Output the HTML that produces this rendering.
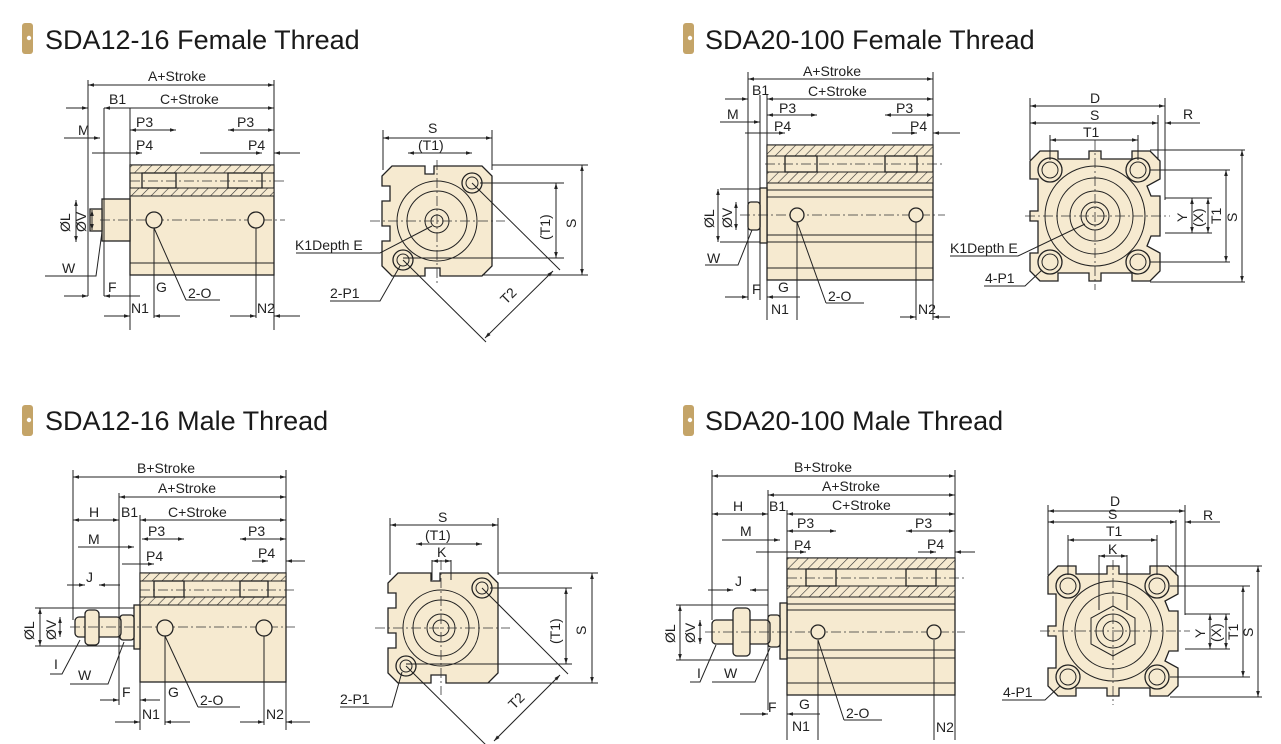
<!DOCTYPE html>
<html><head><meta charset="utf-8"><style>
html,body{margin:0;padding:0;background:#fff;width:1281px;height:744px;overflow:hidden}
svg{display:block}
text{font-family:"Liberation Sans",sans-serif;fill:#222}
.t{font-size:27px;fill:#1a1a1a}
.d{font-size:14px}
.b{fill:#f6ead0;stroke:#222;stroke-width:1.3}
.l{stroke:#222;stroke-width:1;fill:none}
.c{stroke:#333;stroke-width:.8;fill:none;stroke-dasharray:10 3 2 3}
.h{fill:url(#hat);stroke:#222;stroke-width:1}
</style></head><body>
<svg width="1281" height="744" viewBox="0 0 1281 744">
<defs>
<pattern id="hat" width="7" height="7" patternUnits="userSpaceOnUse" patternTransform="rotate(45)"><rect width="7" height="7" fill="#f6ead0"/><line x1="0" y1="0" x2="0" y2="7" stroke="#333" stroke-width="1.2"/></pattern>
<marker id="a" viewBox="0 0 10 10" refX="10" refY="5" markerWidth="8" markerHeight="6" orient="auto-start-reverse"><path d="M0,2 L10,5 L0,8z" fill="#222"/></marker>
<path id="ev" d="M-55,-65 L-37,-65 L-37,-57 L-6,-57 L-6,-65 L6,-65 L6,-57 L37,-57 L37,-65 L55,-65 L65,-55 L65,-37 L52,-30 L56,-20 L65,-20 L65,20 L56,20 L52,30 L65,37 L65,55 L55,65 L37,65 L37,57 L6,57 L6,65 L-6,65 L-6,57 L-37,57 L-37,65 L-55,65 L-65,55 L-65,37 L-57,37 L-57,5 L-65,5 L-65,-5 L-57,-5 L-57,-37 L-65,-37 L-65,-55Z"/>
<path id="ev2" d="M-45,-55 L-12,-55 L-12,-47 L-3,-47 L-3,-55 L45,-55 L55,-45 L55,45 L45,55 L3,55 L3,47 L-12,47 L-12,55 L-45,55 L-55,45 L-55,20 L-47,20 L-47,5 L-55,5 L-55,-20 L-47,-20 L-47,-35 L-55,-35 L-55,-45Z"/>
</defs>

<!-- titles -->
<g>
<rect x="22" y="23" width="11" height="31" rx="3" fill="#c4a468"/><circle cx="29" cy="38" r="2.2" fill="#fff"/>
<text class="t" x="45" y="49">SDA12-16 Female Thread</text>
<rect x="683" y="23" width="11" height="31" rx="3" fill="#c4a468"/><circle cx="690" cy="38" r="2.2" fill="#fff"/>
<text class="t" x="705" y="49">SDA20-100 Female Thread</text>
<rect x="22" y="405" width="11" height="31" rx="3" fill="#c4a468"/><circle cx="29" cy="420" r="2.2" fill="#fff"/>
<text class="t" x="45" y="430">SDA12-16 Male Thread</text>
<rect x="683" y="405" width="11" height="31" rx="3" fill="#c4a468"/><circle cx="690" cy="420" r="2.2" fill="#fff"/>
<text class="t" x="705" y="430">SDA20-100 Male Thread</text>
</g>

<!-- Q1 side -->
<g>
<rect class="b" x="130" y="165" width="144" height="110"/>
<rect class="h" x="130" y="165" width="144" height="8"/>
<rect class="h" x="130" y="188" width="144" height="8"/>
<rect class="b" x="142" y="173" width="34" height="15"/><rect class="b" x="228" y="173" width="34" height="15"/>
<line class="l" x1="130" y1="263" x2="274" y2="263"/>
<rect class="b" x="102" y="199" width="28" height="42"/>
<rect class="b" x="90" y="209" width="12" height="22"/>
<line class="c" x1="100" y1="220" x2="285" y2="220"/><line class="c" x1="130" y1="181" x2="285" y2="181"/>
<circle class="b" cx="154" cy="220" r="8"/><circle class="b" cx="256" cy="220" r="8"/>
<line class="l" x1="88" y1="80" x2="88" y2="296"/><line class="l" x1="274" y1="80" x2="274" y2="330"/>
<line class="l" x1="104" y1="108" x2="104" y2="296"/><line class="l" x1="130" y1="108" x2="130" y2="330"/>
<line class="l" x1="88" y1="85" x2="274" y2="85" marker-start="url(#a)" marker-end="url(#a)"/>
<text class="d" x="148" y="81">A+Stroke</text>
<line class="l" x1="66" y1="108" x2="88" y2="108" marker-end="url(#a)"/>
<line class="l" x1="104" y1="108" x2="274" y2="108" marker-start="url(#a)" marker-end="url(#a)"/>
<text class="d" x="109" y="104">B1</text><text class="d" x="160" y="104">C+Stroke</text>
<line class="l" x1="130" y1="130" x2="176" y2="130" marker-start="url(#a)" marker-end="url(#a)"/>
<line class="l" x1="228" y1="130" x2="274" y2="130" marker-start="url(#a)" marker-end="url(#a)"/>
<text class="d" x="136" y="127">P3</text><text class="d" x="237" y="127">P3</text>
<line class="l" x1="64" y1="138" x2="100" y2="138" marker-end="url(#a)"/><text class="d" x="78" y="135">M</text>
<line class="l" x1="92" y1="153" x2="142" y2="153" marker-end="url(#a)"/>
<line class="l" x1="200" y1="153" x2="262" y2="153" marker-end="url(#a)"/><line class="l" x1="300" y1="153" x2="274" y2="153" marker-end="url(#a)"/>
<text class="d" x="136" y="150">P4</text><text class="d" x="248" y="150">P4</text>
<line class="l" x1="76" y1="200" x2="76" y2="242" marker-start="url(#a)" marker-end="url(#a)"/>
<line class="l" x1="92" y1="210" x2="92" y2="230" marker-start="url(#a)" marker-end="url(#a)"/>
<text class="d" x="70" y="232" transform="rotate(-90 70 232)">ØL</text><text class="d" x="86" y="232" transform="rotate(-90 86 232)">ØV</text>
<text class="d" x="62" y="273">W</text><path class="l" d="M45,276 L96,276 L102,232"/>
<text class="d" x="108" y="292">F</text><text class="d" x="156" y="292">G</text>
<text class="d" x="188" y="298">2-O</text><path class="l" d="M186,300 L220,300 M186,300 L154,228"/>
<line class="l" x1="64" y1="296" x2="88" y2="296" marker-end="url(#a)"/>
<line class="l" x1="140" y1="296" x2="104" y2="296" marker-end="url(#a)"/>
<line class="l" x1="154" y1="228" x2="154" y2="318"/><line class="l" x1="256" y1="228" x2="256" y2="318"/>
<line class="l" x1="104" y1="316" x2="130" y2="316" marker-end="url(#a)"/><line class="l" x1="180" y1="316" x2="154" y2="316" marker-end="url(#a)"/>
<line class="l" x1="230" y1="316" x2="256" y2="316" marker-end="url(#a)"/><line class="l" x1="300" y1="316" x2="274" y2="316" marker-end="url(#a)"/>
<text class="d" x="131" y="313">N1</text><text class="d" x="257" y="313" font-size="12">N2</text>
</g>

<!-- Q1 end -->
<g>
<use href="#ev2" class="b" transform="translate(437,221)"/>
<circle class="l" cx="437" cy="221" r="40"/><circle class="l" cx="437" cy="221" r="30"/>
<circle class="l" cx="437" cy="221" r="12"/><circle class="l" cx="437" cy="221" r="6"/>
<circle class="b" cx="472" cy="183" r="10"/><circle class="l" cx="472" cy="183" r="6"/>
<circle class="b" cx="403" cy="260" r="10"/><circle class="l" cx="403" cy="260" r="6"/>
<line class="c" x1="370" y1="221" x2="505" y2="221"/><line class="c" x1="437" y1="160" x2="437" y2="285"/>
<line class="l" x1="383" y1="130" x2="383" y2="170"/><line class="l" x1="492" y1="130" x2="492" y2="170"/>
<line class="l" x1="383" y1="138" x2="492" y2="138" marker-start="url(#a)" marker-end="url(#a)"/>
<text class="d" x="428" y="133">S</text>
<line class="l" x1="408" y1="153" x2="472" y2="153" marker-start="url(#a)" marker-end="url(#a)"/>
<text class="d" x="418" y="150">(T1)</text>
<line class="l" x1="492" y1="165" x2="588" y2="165"/><line class="l" x1="482" y1="275" x2="588" y2="275"/>
<line class="l" x1="582" y1="165" x2="582" y2="275" marker-start="url(#a)" marker-end="url(#a)"/>
<text class="d" x="576" y="228" transform="rotate(-90 576 228)">S</text>
<line class="l" x1="480" y1="183" x2="564" y2="183"/><line class="l" x1="403" y1="258" x2="564" y2="258"/>
<line class="l" x1="556" y1="183" x2="556" y2="258" marker-start="url(#a)" marker-end="url(#a)"/>
<text class="d" x="550" y="240" transform="rotate(-90 550 240)">(T1)</text>
<line class="l" x1="472" y1="183" x2="560" y2="270"/><line class="l" x1="403" y1="260" x2="486" y2="342"/>
<line class="l" x1="553" y1="271" x2="485" y2="338" marker-start="url(#a)" marker-end="url(#a)"/>
<text class="d" x="506" y="305" transform="rotate(-45 506 305)">T2</text>
<text class="d" x="295" y="250">K1Depth E</text><path class="l" d="M296,253 L380,253 L432,226"/>
<text class="d" x="330" y="298">2-P1</text><path class="l" d="M330,301 L380,301 L400,266"/>
</g>

<!-- Q2 side -->
<g>
<rect class="b" x="767" y="145" width="166" height="135"/>
<rect class="h" x="767" y="145" width="166" height="11"/>
<rect class="h" x="767" y="172" width="166" height="11"/>
<rect class="b" x="785" y="156" width="32" height="16"/><rect class="b" x="885" y="156" width="32" height="16"/>
<line class="l" x1="767" y1="190" x2="933" y2="190"/><line class="l" x1="767" y1="197" x2="933" y2="197"/>
<line class="l" x1="767" y1="235" x2="933" y2="235"/><line class="l" x1="767" y1="242" x2="933" y2="242"/>
<line class="l" x1="767" y1="268" x2="933" y2="268"/>
<rect class="b" x="760" y="188" width="7" height="55"/>
<rect class="b" x="748" y="202" width="12" height="28" rx="3"/>
<line class="c" x1="740" y1="215" x2="945" y2="215"/><line class="c" x1="765" y1="164" x2="945" y2="164"/>
<circle class="b" cx="797" cy="215" r="7"/><circle class="b" cx="916" cy="215" r="7"/>
<line class="l" x1="748" y1="72" x2="748" y2="300"/><line class="l" x1="933" y1="72" x2="933" y2="320"/>
<line class="l" x1="760" y1="95" x2="760" y2="300"/><line class="l" x1="767" y1="95" x2="767" y2="320"/>
<line class="l" x1="748" y1="79" x2="933" y2="79" marker-start="url(#a)" marker-end="url(#a)"/>
<text class="d" x="803" y="76">A+Stroke</text>
<line class="l" x1="725" y1="99" x2="748" y2="99" marker-end="url(#a)"/>
<line class="l" x1="767" y1="99" x2="933" y2="99" marker-start="url(#a)" marker-end="url(#a)"/>
<text class="d" x="752" y="95">B1</text><text class="d" x="808" y="96">C+Stroke</text>
<line class="l" x1="767" y1="115" x2="817" y2="115" marker-start="url(#a)" marker-end="url(#a)"/>
<line class="l" x1="885" y1="115" x2="933" y2="115" marker-start="url(#a)" marker-end="url(#a)"/>
<text class="d" x="779" y="113">P3</text><text class="d" x="896" y="113">P3</text>
<line class="l" x1="720" y1="122" x2="760" y2="122" marker-end="url(#a)"/><text class="d" x="727" y="119">M</text>
<line class="l" x1="745" y1="133" x2="785" y2="133" marker-end="url(#a)"/>
<line class="l" x1="892" y1="133" x2="917" y2="133" marker-end="url(#a)"/><line class="l" x1="960" y1="133" x2="933" y2="133" marker-end="url(#a)"/>
<text class="d" x="774" y="131">P4</text><text class="d" x="910" y="131">P4</text>
<line class="l" x1="720" y1="189" x2="760" y2="189"/><line class="l" x1="720" y1="242" x2="760" y2="242"/>
<line class="l" x1="718" y1="189" x2="718" y2="242" marker-start="url(#a)" marker-end="url(#a)"/>
<line class="l" x1="736" y1="202" x2="736" y2="230" marker-start="url(#a)" marker-end="url(#a)"/>
<text class="d" x="714" y="228" transform="rotate(-90 714 228)">ØL</text><text class="d" x="732" y="228" transform="rotate(-90 732 228)">ØV</text>
<text class="d" x="707" y="263">W</text><path class="l" d="M705,265 L738,265 L752,230"/>
<text class="d" x="752" y="294">F</text><text class="d" x="778" y="292">G</text>
<text class="d" x="828" y="301">2-O</text><path class="l" d="M826,303 L864,303 M826,303 L797,222"/>
<line class="l" x1="725" y1="297" x2="748" y2="297" marker-end="url(#a)"/>
<line class="l" x1="800" y1="297" x2="767" y2="297" marker-end="url(#a)"/>
<line class="l" x1="797" y1="222" x2="797" y2="320"/><line class="l" x1="916" y1="222" x2="916" y2="320"/>
<text class="d" x="771" y="314">N1</text><text class="d" x="918" y="314" font-size="12">N2</text>
<line class="l" x1="900" y1="317" x2="916" y2="317" marker-end="url(#a)"/><line class="l" x1="950" y1="317" x2="933" y2="317" marker-end="url(#a)"/>
</g>

<!-- Q2 end -->
<g>
<use href="#ev" class="b" transform="translate(1095,216)"/>
<circle class="l" cx="1095" cy="216" r="50"/><circle class="l" cx="1095" cy="216" r="38"/>
<circle class="l" cx="1095" cy="216" r="25"/><circle class="l" cx="1095" cy="216" r="14"/><circle class="l" cx="1095" cy="216" r="9"/>
<circle class="b" cx="1050" cy="170" r="12"/><circle class="l" cx="1050" cy="170" r="8"/>
<circle class="b" cx="1138" cy="170" r="12"/><circle class="l" cx="1138" cy="170" r="8"/>
<circle class="b" cx="1050" cy="262" r="12"/><circle class="l" cx="1050" cy="262" r="8"/>
<circle class="b" cx="1138" cy="262" r="12"/><circle class="l" cx="1138" cy="262" r="8"/>
<line class="c" x1="1025" y1="216" x2="1170" y2="216"/><line class="c" x1="1095" y1="140" x2="1095" y2="290"/>
<line class="l" x1="1030" y1="98" x2="1030" y2="160"/><line class="l" x1="1165" y1="98" x2="1165" y2="200"/><line class="l" x1="1158" y1="115" x2="1158" y2="160"/>
<line class="l" x1="1030" y1="106" x2="1165" y2="106" marker-start="url(#a)" marker-end="url(#a)"/><text class="d" x="1090" y="103">D</text>
<line class="l" x1="1030" y1="123" x2="1158" y2="123" marker-start="url(#a)" marker-end="url(#a)"/><text class="d" x="1090" y="120">S</text>
<line class="l" x1="1200" y1="123" x2="1165" y2="123" marker-end="url(#a)"/><text class="d" x="1183" y="119">R</text>
<line class="l" x1="1050" y1="135" x2="1050" y2="160"/><line class="l" x1="1138" y1="135" x2="1138" y2="160"/>
<line class="l" x1="1050" y1="140" x2="1138" y2="140" marker-start="url(#a)" marker-end="url(#a)"/><text class="d" x="1083" y="137">T1</text>
<line class="l" x1="1150" y1="150" x2="1245" y2="150"/><line class="l" x1="1150" y1="282" x2="1245" y2="282"/>
<line class="l" x1="1242" y1="150" x2="1242" y2="282" marker-start="url(#a)" marker-end="url(#a)"/>
<text class="d" x="1237" y="222" transform="rotate(-90 1237 222)">S</text>
<line class="l" x1="1150" y1="170" x2="1230" y2="170"/><line class="l" x1="1150" y1="262" x2="1230" y2="262"/>
<line class="l" x1="1226" y1="170" x2="1226" y2="262" marker-start="url(#a)" marker-end="url(#a)"/>
<text class="d" x="1221" y="224" transform="rotate(-90 1221 224)">T1</text>
<line class="l" x1="1165" y1="198" x2="1212" y2="198"/><line class="l" x1="1165" y1="233" x2="1212" y2="233"/>
<line class="l" x1="1192" y1="198" x2="1192" y2="233" marker-start="url(#a)" marker-end="url(#a)"/>
<line class="l" x1="1208" y1="198" x2="1208" y2="233" marker-start="url(#a)" marker-end="url(#a)"/>
<text class="d" x="1187" y="222" transform="rotate(-90 1187 222)">Y</text><text class="d" x="1203" y="227" transform="rotate(-90 1203 227)" font-size="12">(X)</text>
<text class="d" x="950" y="253" font-size="12">K1Depth E</text><path class="l" d="M950,256 L1018,256 L1085,224"/>
<text class="d" x="985" y="283">4-P1</text><path class="l" d="M984,286 L1025,286 L1042,270"/>
</g>

<!-- Q3 side -->
<g>
<rect class="b" x="140" y="573" width="146" height="109"/>
<rect class="h" x="140" y="573" width="146" height="8"/>
<rect class="h" x="140" y="597" width="146" height="8"/>
<rect class="b" x="154" y="581" width="30" height="16"/><rect class="b" x="240" y="581" width="28" height="16"/>
<rect class="b" x="134" y="605" width="6" height="44"/>
<rect class="b" x="120" y="615" width="14" height="25" rx="3"/>
<rect class="b" x="75" y="617" width="46" height="20" rx="4"/>
<rect class="b" x="85" y="610" width="14" height="35" rx="4"/>
<line class="c" x1="70" y1="627" x2="295" y2="627"/><line class="c" x1="140" y1="590" x2="295" y2="590"/>
<circle class="b" cx="165" cy="628" r="8"/><circle class="b" cx="264" cy="628" r="8"/>
<line class="l" x1="73" y1="470" x2="73" y2="620"/><line class="l" x1="286" y1="470" x2="286" y2="730"/>
<line class="l" x1="119" y1="493" x2="119" y2="705"/><line class="l" x1="140" y1="515" x2="140" y2="730"/>
<line class="l" x1="73" y1="477" x2="286" y2="477" marker-start="url(#a)" marker-end="url(#a)"/><text class="d" x="137" y="473">B+Stroke</text>
<line class="l" x1="119" y1="497" x2="286" y2="497" marker-start="url(#a)" marker-end="url(#a)"/><text class="d" x="158" y="493">A+Stroke</text>
<line class="l" x1="73" y1="520" x2="119" y2="520" marker-start="url(#a)" marker-end="url(#a)"/><text class="d" x="89" y="517">H</text>
<line class="l" x1="140" y1="520" x2="286" y2="520" marker-start="url(#a)" marker-end="url(#a)"/>
<text class="d" x="121" y="517">B1</text><text class="d" x="168" y="517">C+Stroke</text>
<line class="l" x1="142" y1="539" x2="184" y2="539" marker-start="url(#a)" marker-end="url(#a)"/>
<line class="l" x1="240" y1="539" x2="286" y2="539" marker-start="url(#a)" marker-end="url(#a)"/>
<text class="d" x="148" y="536">P3</text><text class="d" x="248" y="536">P3</text>
<line class="l" x1="78" y1="547" x2="134" y2="547" marker-end="url(#a)"/><text class="d" x="88" y="544">M</text>
<line class="l" x1="122" y1="564" x2="154" y2="564" marker-end="url(#a)"/><line class="l" x1="252" y1="561" x2="268" y2="561" marker-end="url(#a)"/><line class="l" x1="305" y1="561" x2="286" y2="561" marker-end="url(#a)"/>
<text class="d" x="146" y="561">P4</text><text class="d" x="258" y="558">P4</text>
<line class="l" x1="67" y1="585" x2="85" y2="585" marker-end="url(#a)"/><line class="l" x1="120" y1="585" x2="99" y2="585" marker-end="url(#a)"/><text class="d" x="86" y="582">J</text>
<line class="l" x1="35" y1="608" x2="134" y2="608"/><line class="l" x1="35" y1="646" x2="134" y2="646"/>
<line class="l" x1="40" y1="608" x2="40" y2="646" marker-start="url(#a)" marker-end="url(#a)"/>
<line class="l" x1="60" y1="617" x2="60" y2="637" marker-start="url(#a)" marker-end="url(#a)"/>
<text class="d" x="34" y="640" transform="rotate(-90 34 640)">ØL</text><text class="d" x="56" y="640" transform="rotate(-90 56 640)">ØV</text>
<text class="d" x="54" y="669">I</text><path class="l" d="M50,674 L62,674 L80,640"/>
<text class="d" x="78" y="680">W</text><path class="l" d="M70,684 L108,684 L124,642"/>
<text class="d" x="122" y="697">F</text><text class="d" x="168" y="697">G</text>
<text class="d" x="200" y="705">2-O</text><path class="l" d="M198,707 L240,707 M198,707 L165,636"/>
<line class="l" x1="100" y1="700" x2="119" y2="700" marker-end="url(#a)"/><line class="l" x1="160" y1="700" x2="140" y2="700" marker-end="url(#a)"/>
<line class="l" x1="165" y1="636" x2="165" y2="725"/><line class="l" x1="264" y1="636" x2="264" y2="725"/>
<line class="l" x1="115" y1="722" x2="140" y2="722" marker-end="url(#a)"/><line class="l" x1="190" y1="722" x2="165" y2="722" marker-end="url(#a)"/>
<line class="l" x1="240" y1="722" x2="264" y2="722" marker-end="url(#a)"/><line class="l" x1="310" y1="722" x2="286" y2="722" marker-end="url(#a)"/>
<text class="d" x="142" y="719">N1</text><text class="d" x="266" y="719" font-size="12">N2</text>
</g>

<!-- Q3 end -->
<g>
<use href="#ev2" class="b" transform="translate(443,628)"/>
<circle class="l" cx="441" cy="628" r="38"/><circle class="l" cx="441" cy="628" r="28"/>
<circle class="l" cx="441" cy="628" r="14"/><circle class="l" cx="441" cy="628" r="8"/>
<circle class="b" cx="482" cy="588" r="10"/><circle class="l" cx="482" cy="588" r="6"/>
<circle class="b" cx="406" cy="666" r="10"/><circle class="l" cx="406" cy="666" r="6"/>
<line class="c" x1="375" y1="628" x2="510" y2="628"/><line class="c" x1="441" y1="560" x2="441" y2="695"/>
<line class="l" x1="390" y1="518" x2="390" y2="575"/><line class="l" x1="498" y1="518" x2="498" y2="575"/>
<line class="l" x1="390" y1="525" x2="498" y2="525" marker-start="url(#a)" marker-end="url(#a)"/><text class="d" x="438" y="522">S</text>
<line class="l" x1="416" y1="544" x2="482" y2="544" marker-start="url(#a)" marker-end="url(#a)"/><text class="d" x="425" y="540">(T1)</text>
<line class="l" x1="432" y1="560" x2="432" y2="580"/><line class="l" x1="451" y1="560" x2="451" y2="580"/>
<line class="l" x1="432" y1="561" x2="451" y2="561" marker-start="url(#a)" marker-end="url(#a)"/><text class="d" x="437" y="557">K</text>
<line class="l" x1="498" y1="573" x2="598" y2="573"/><line class="l" x1="488" y1="683" x2="598" y2="683"/>
<line class="l" x1="592" y1="573" x2="592" y2="683" marker-start="url(#a)" marker-end="url(#a)"/>
<text class="d" x="586" y="635" transform="rotate(-90 586 635)">S</text>
<line class="l" x1="490" y1="588" x2="572" y2="588"/><line class="l" x1="406" y1="664" x2="572" y2="664"/>
<line class="l" x1="566" y1="588" x2="566" y2="664" marker-start="url(#a)" marker-end="url(#a)"/>
<text class="d" x="560" y="644" transform="rotate(-90 560 644)">(T1)</text>
<line class="l" x1="482" y1="588" x2="568" y2="674"/><line class="l" x1="406" y1="666" x2="487" y2="746"/>
<line class="l" x1="560" y1="675" x2="494" y2="741" marker-start="url(#a)" marker-end="url(#a)"/>
<text class="d" x="514" y="710" transform="rotate(-45 514 710)">T2</text>
<text class="d" x="340" y="704">2-P1</text><path class="l" d="M340,707 L392,707 L402,672"/>
</g>

<!-- Q4 side -->
<g>
<rect class="b" x="787" y="558" width="168" height="137"/>
<rect class="h" x="787" y="558" width="168" height="11"/>
<rect class="h" x="787" y="586" width="168" height="11"/>
<rect class="b" x="806" y="569" width="30" height="17"/><rect class="b" x="906" y="569" width="30" height="17"/>
<line class="l" x1="787" y1="604" x2="955" y2="604"/><line class="l" x1="787" y1="610" x2="955" y2="610"/>
<line class="l" x1="787" y1="650" x2="955" y2="650"/><line class="l" x1="787" y1="658" x2="955" y2="658"/>
<line class="l" x1="787" y1="683" x2="955" y2="683"/>
<rect class="b" x="780" y="603" width="7" height="56"/>
<rect class="b" x="768" y="615" width="12" height="32" rx="3"/>
<rect class="b" x="712" y="620" width="58" height="24" rx="4"/>
<rect class="b" x="733" y="608" width="17" height="48" rx="4"/>
<line class="c" x1="705" y1="632" x2="965" y2="632"/><line class="c" x1="787" y1="578" x2="965" y2="578"/>
<circle class="b" cx="818" cy="632" r="7"/><circle class="b" cx="934" cy="632" r="7"/>
<line class="l" x1="712" y1="470" x2="712" y2="620"/><line class="l" x1="955" y1="470" x2="955" y2="740"/>
<line class="l" x1="768" y1="490" x2="768" y2="710"/><line class="l" x1="787" y1="510" x2="787" y2="740"/>
<line class="l" x1="712" y1="476" x2="955" y2="476" marker-start="url(#a)" marker-end="url(#a)"/><text class="d" x="794" y="472">B+Stroke</text>
<line class="l" x1="768" y1="495" x2="955" y2="495" marker-start="url(#a)" marker-end="url(#a)"/><text class="d" x="822" y="491">A+Stroke</text>
<line class="l" x1="712" y1="514" x2="768" y2="514" marker-start="url(#a)" marker-end="url(#a)"/><text class="d" x="733" y="511">H</text>
<line class="l" x1="787" y1="514" x2="955" y2="514" marker-start="url(#a)" marker-end="url(#a)"/>
<text class="d" x="769" y="511">B1</text><text class="d" x="832" y="510">C+Stroke</text>
<line class="l" x1="787" y1="531" x2="836" y2="531" marker-start="url(#a)" marker-end="url(#a)"/>
<line class="l" x1="906" y1="531" x2="955" y2="531" marker-start="url(#a)" marker-end="url(#a)"/>
<text class="d" x="797" y="528">P3</text><text class="d" x="915" y="528">P3</text>
<line class="l" x1="722" y1="540" x2="780" y2="540" marker-end="url(#a)"/><text class="d" x="740" y="536">M</text>
<line class="l" x1="756" y1="552" x2="806" y2="552" marker-end="url(#a)"/><line class="l" x1="918" y1="552" x2="936" y2="552" marker-end="url(#a)"/><line class="l" x1="975" y1="552" x2="955" y2="552" marker-end="url(#a)"/>
<text class="d" x="794" y="550">P4</text><text class="d" x="927" y="549">P4</text>
<line class="l" x1="708" y1="590" x2="733" y2="590" marker-end="url(#a)"/><line class="l" x1="768" y1="590" x2="750" y2="590" marker-end="url(#a)"/><text class="d" x="735" y="586">J</text>
<line class="l" x1="676" y1="605" x2="768" y2="605"/><line class="l" x1="676" y1="660" x2="768" y2="660"/>
<line class="l" x1="680" y1="605" x2="680" y2="660" marker-start="url(#a)" marker-end="url(#a)"/>
<line class="l" x1="700" y1="620" x2="700" y2="644" marker-start="url(#a)" marker-end="url(#a)"/>
<text class="d" x="675" y="643" transform="rotate(-90 675 643)">ØL</text><text class="d" x="695" y="643" transform="rotate(-90 695 643)">ØV</text>
<text class="d" x="697" y="678">I</text><path class="l" d="M690,682 L700,682 L716,645"/>
<text class="d" x="724" y="678">W</text><path class="l" d="M712,682 L755,682 L770,648"/>
<text class="d" x="768" y="712">F</text><text class="d" x="799" y="709">G</text>
<text class="d" x="846" y="718">2-O</text><path class="l" d="M844,720 L882,720 M844,720 L818,640"/>
<line class="l" x1="740" y1="714" x2="768" y2="714" marker-end="url(#a)"/><line class="l" x1="820" y1="714" x2="787" y2="714" marker-end="url(#a)"/>
<line class="l" x1="818" y1="640" x2="818" y2="740"/><line class="l" x1="934" y1="640" x2="934" y2="740"/>
<text class="d" x="792" y="731">N1</text><text class="d" x="936" y="732" font-size="12">N2</text>
</g>

<!-- Q4 end -->
<g>
<use href="#ev" class="b" transform="translate(1113,631)"/>
<circle class="l" cx="1113" cy="631" r="50"/><circle class="l" cx="1113" cy="631" r="38"/>
<polygon class="l" points="1113,606 1135,618 1135,644 1113,656 1091,644 1091,618"/>
<circle class="l" cx="1113" cy="631" r="17"/><circle class="l" cx="1113" cy="631" r="10"/>
<circle class="b" cx="1068" cy="586" r="12"/><circle class="l" cx="1068" cy="586" r="8"/>
<circle class="b" cx="1157" cy="586" r="12"/><circle class="l" cx="1157" cy="586" r="8"/>
<circle class="b" cx="1068" cy="677" r="12"/><circle class="l" cx="1068" cy="677" r="8"/>
<circle class="b" cx="1157" cy="677" r="12"/><circle class="l" cx="1157" cy="677" r="8"/>
<line class="c" x1="1040" y1="631" x2="1190" y2="631"/><line class="c" x1="1113" y1="560" x2="1113" y2="705"/>
<line class="l" x1="1048" y1="505" x2="1048" y2="575"/><line class="l" x1="1185" y1="505" x2="1185" y2="615"/><line class="l" x1="1176" y1="520" x2="1176" y2="575"/>
<line class="l" x1="1048" y1="511" x2="1185" y2="511" marker-start="url(#a)" marker-end="url(#a)"/><text class="d" x="1110" y="506">D</text>
<line class="l" x1="1048" y1="522" x2="1176" y2="522" marker-start="url(#a)" marker-end="url(#a)"/><text class="d" x="1108" y="519">S</text>
<line class="l" x1="1220" y1="522" x2="1185" y2="522" marker-end="url(#a)"/><text class="d" x="1203" y="520">R</text>
<line class="l" x1="1068" y1="535" x2="1068" y2="575"/><line class="l" x1="1157" y1="535" x2="1157" y2="575"/>
<line class="l" x1="1068" y1="540" x2="1157" y2="540" marker-start="url(#a)" marker-end="url(#a)"/><text class="d" x="1106" y="536">T1</text>
<line class="l" x1="1099" y1="555" x2="1099" y2="610"/><line class="l" x1="1127" y1="555" x2="1127" y2="610"/>
<line class="l" x1="1099" y1="556" x2="1127" y2="556" marker-start="url(#a)" marker-end="url(#a)"/><text class="d" x="1108" y="554">K</text>
<line class="l" x1="1170" y1="566" x2="1262" y2="566"/><line class="l" x1="1170" y1="697" x2="1262" y2="697"/>
<line class="l" x1="1258" y1="566" x2="1258" y2="697" marker-start="url(#a)" marker-end="url(#a)"/>
<text class="d" x="1253" y="637" transform="rotate(-90 1253 637)">S</text>
<line class="l" x1="1170" y1="586" x2="1250" y2="586"/><line class="l" x1="1170" y1="677" x2="1250" y2="677"/>
<line class="l" x1="1243" y1="586" x2="1243" y2="677" marker-start="url(#a)" marker-end="url(#a)"/>
<text class="d" x="1238" y="640" transform="rotate(-90 1238 640)">T1</text>
<line class="l" x1="1185" y1="614" x2="1230" y2="614"/><line class="l" x1="1185" y1="649" x2="1230" y2="649"/>
<line class="l" x1="1210" y1="614" x2="1210" y2="649" marker-start="url(#a)" marker-end="url(#a)"/>
<line class="l" x1="1226" y1="614" x2="1226" y2="649" marker-start="url(#a)" marker-end="url(#a)"/>
<text class="d" x="1205" y="638" transform="rotate(-90 1205 638)">Y</text><text class="d" x="1221" y="642" transform="rotate(-90 1221 642)" font-size="12">(X)</text>
<text class="d" x="1003" y="697">4-P1</text><path class="l" d="M1002,700 L1045,700 L1060,686"/>
</g>
</svg>
</body></html>
